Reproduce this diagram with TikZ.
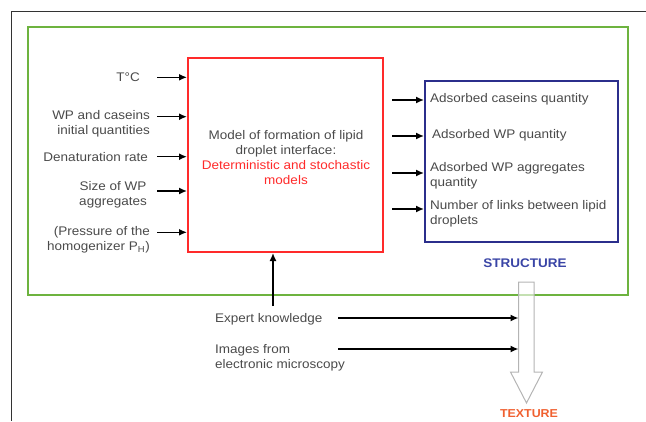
\documentclass[tikz,border=0pt]{standalone}
\usepackage{fontspec}
\setmainfont[FakeStretch=1.08]{Liberation Sans}
\usetikzlibrary{arrows.meta}
\definecolor{txt}{HTML}{4A4A4A}
\definecolor{gframe}{HTML}{6DB33F}
\definecolor{rbox}{HTML}{FF2A2A}
\definecolor{bbox}{HTML}{2B2E8C}
\definecolor{struct}{HTML}{3A45A6}
\definecolor{texture}{HTML}{F06030}
\definecolor{hollow}{HTML}{B4B4B4}
\begin{document}
\begin{tikzpicture}[x=1pt,y=-1pt,
  lbl/.style={text=txt, font=\fontsize{12.5}{15}\selectfont, inner sep=0pt},
  arr/.style={-{Latex[length=8pt,width=7pt]}, line width=1.5pt, black},
  title/.style={font=\fontsize{12.5}{15}\selectfont\bfseries, inner sep=0pt}]
\useasboundingbox (0,0) rectangle (646,421);
% outer frame
\draw[color=black!80, line width=0.8pt] (646,11.5) -- (11.5,11.5) -- (11.5,421);
% green frame
\draw[gframe, line width=1.6pt] (28,27) rectangle (628,295);
% red model box
\node[draw=rbox, line width=2pt, minimum width=195pt, minimum height=194pt, inner sep=0pt] (red) at (285.5,155) {};
\node[lbl, align=center] (model) at (286,158) {Model of formation of lipid\\droplet interface:\\\textcolor{rbox}{Deterministic and stochastic}\\\textcolor{rbox}{models}};
% blue structure box
\node[draw=bbox, line width=2pt, minimum width=193pt, minimum height=161pt, inner sep=0pt] (blue) at (521.5,161.5) {};
% left inputs
\node[lbl, anchor=east] (tc) at (140,77) {T°C};
\node[lbl, anchor=east, align=right] (wp) at (150,124) {WP and caseins\\initial quantities};
\node[lbl, anchor=east] (den) at (148,157) {Denaturation rate};
\node[lbl, anchor=east, align=center] (size) at (147,195) {Size of WP\\aggregates};
\node[lbl, anchor=east, align=right] (pres) at (150,239.5) {(Pressure of the\\homogenizer P\textsubscript{H})};
\coordinate (l1) at (157,77.3);
\coordinate (l2) at (157,116.7);
\coordinate (l3) at (157,156.7);
\coordinate (l4) at (157,191);
\coordinate (l5) at (157,232.3);
\foreach \c in {l1,l2,l3,l4,l5} \draw[arr] (\c) -- (\c -| red.west);
% right outputs
\node[lbl, anchor=west] (o1) at (430,99.5) {Adsorbed caseins quantity};
\node[lbl, anchor=west] (o2) at (432,135) {Adsorbed WP quantity};
\node[lbl, anchor=west, align=left] (o3) at (430,175.5) {Adsorbed WP aggregates\\quantity};
\node[lbl, anchor=west, align=left] (o4) at (430,213.5) {Number of links between lipid\\droplets};
\coordinate (r1) at (392,100);
\coordinate (r2) at (392,136);
\coordinate (r3) at (392,173);
\coordinate (r4) at (392,209);
\foreach \c in {r1,r2,r3,r4} \draw[arr] (\c) -- (\c -| blue.west);
\node[title, text=struct] (structure) at (525,263) {STRUCTURE};
% hollow arrow to texture
\coordinate (ha) at (518.5,282);
\draw[hollow, line width=1pt, fill=white, fill opacity=0.6] (ha) -- (534,282) -- (534,372) -- (542.5,372) -- (526.5,403) -- (510.5,372) -- (518.5,372) -- cycle;
\node[title, text=texture, font=\fontsize{11.5}{14}\selectfont\bfseries] (texture) at (529,413.5) {TEXTURE};
% bottom inputs
\node[lbl, anchor=west] (ek) at (215,319) {Expert knowledge};
\node[lbl, anchor=west, align=left] (img) at (215,357.5) {Images from\\electronic microscopy};
\coordinate (b1) at (338,318);
\coordinate (b2) at (338,349);
\draw[arr] (b1) -- (b1 -| ha);
\draw[arr] (b2) -- (b2 -| ha);
\coordinate (up) at (273,306);
\draw[arr] (up) -- (up |- red.south);
\end{tikzpicture}
\end{document}
